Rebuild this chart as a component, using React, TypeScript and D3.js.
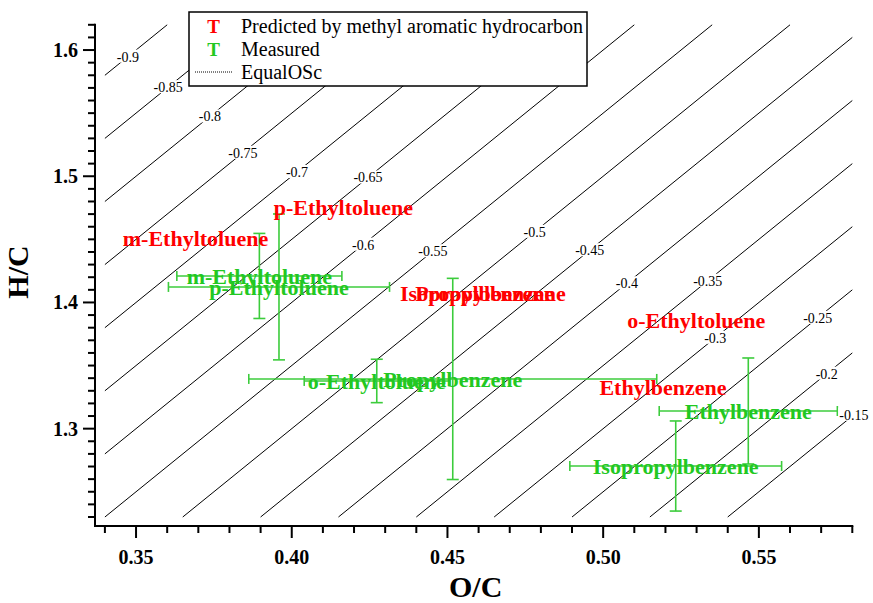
import React from "react";
import * as d3 from "d3";

// ---- data ----
const compounds = [
  "m-Ethyltoluene",
  "p-Ethyltoluene",
  "o-Ethyltoluene",
  "Propylbenzene",
  "Isopropylbenzene",
  "Ethylbenzene",
];
const predictedOC = [0.3691, 0.4166, 0.5299, 0.462, 0.4614, 0.5192];
const predictedHC = [1.451, 1.4757, 1.3857, 1.4075, 1.4075, 1.3328];
const measuredOC = [0.3896, 0.3959, 0.4273, 0.4517, 0.5233, 0.5466];
const measuredHC = [1.421, 1.4123, 1.3378, 1.3394, 1.2704, 1.314];
const measuredOCErr = [0.0265, 0.0355, 0.0233, 0.0655, 0.034, 0.0286];
const measuredHCErr = [0.0337, 0.0578, 0.0172, 0.0797, 0.0357, 0.042];

const oscValues = [
  -0.9, -0.85, -0.8, -0.75, -0.7, -0.65, -0.6, -0.55, -0.5, -0.45, -0.4, -0.35,
  -0.3, -0.25, -0.2, -0.15,
];
const oscLabelOC = [
  0.3474, 0.3603, 0.3737, 0.3843, 0.4017, 0.4245, 0.4229, 0.4453, 0.478,
  0.4957, 0.5076, 0.5336, 0.536, 0.5689, 0.5718, 0.5805,
];

const xTickValues = d3.range(34, 59).map((d) => d / 100);
const xMajorTicks = [0.35, 0.4, 0.45, 0.5, 0.55];
const yTickValues = d3.range(123, 163).map((d) => d / 100);
const yMajorTicks = [1.3, 1.4, 1.5, 1.6];

const legendItems = [
  { label: "Predicted by methyl aromatic hydrocarbon", kind: "red" },
  { label: "Measured", kind: "green" },
  { label: "EqualOSc", kind: "line" },
];

const RED = "#ff0000";
const GREEN_TEXT = "#22c822";
const GREEN_BAR = "#3ccc3c";
const FONT = "'Liberation Serif', 'Times New Roman', serif";

export default function App() {
  const W = 873;
  const H = 603;
  const x = d3.scaleLinear().domain([0.34, 0.58]).range([104.9, 852.3]);
  const y = d3.scaleLinear().domain([1.23, 1.62]).range([517, 24.8]);
  const axisX = 95; // left axis line position
  const axisY = 526; // bottom axis line position
  const fmtX = d3.format(".2f");
  const fmtY = d3.format(".1f");
  const isMajor = (v: number, majors: number[]) =>
    majors.some((m) => Math.abs(m - v) < 1e-6);

  const line = d3
    .line<[number, number]>()
    .x((d) => x(d[0]))
    .y((d) => y(d[1]));

  const isolines = oscValues.map((osc) => {
    const o0 = Math.max(0.34, (1.23 + osc) / 2);
    const o1 = Math.min(0.58, (1.62 + osc) / 2);
    return line([
      [o0, 2 * o0 - osc],
      [o1, 2 * o1 - osc],
    ]);
  });

  return (
    <svg
      width={W}
      height={H}
      style={{ position: "absolute", left: 0, top: 0, background: "#fff" }}
      fontFamily={FONT}
    >
      <rect x={0} y={0} width={W} height={H} fill="#fff" />
      {/* iso-OSc lines */}
      <g stroke="#000" strokeWidth={1} fill="none">
        {isolines.map((d, i) => (
          <path key={i} d={d || ""} />
        ))}
      </g>

      {/* measured error bars */}
      <g stroke={GREEN_BAR} strokeWidth={1.6} fill="none">
        {compounds.map((c, i) => {
          const cx = x(measuredOC[i]);
          const cy = y(measuredHC[i]);
          const xl = x(measuredOC[i] - measuredOCErr[i]);
          const xr = x(measuredOC[i] + measuredOCErr[i]);
          const yt = y(measuredHC[i] + measuredHCErr[i]);
          const yb = y(measuredHC[i] - measuredHCErr[i]);
          return (
            <g key={c}>
              <line x1={xl} x2={xr} y1={cy} y2={cy} />
              <line x1={xl} x2={xl} y1={cy - 5} y2={cy + 5} />
              <line x1={xr} x2={xr} y1={cy - 5} y2={cy + 5} />
              <line x1={cx} x2={cx} y1={yt} y2={yb} />
              <line x1={cx - 6} x2={cx + 6} y1={yt} y2={yt} />
              <line x1={cx - 6} x2={cx + 6} y1={yb} y2={yb} />
            </g>
          );
        })}
      </g>

      {/* measured labels */}
      <g fontSize={22} fontWeight="bold" fill={GREEN_TEXT} textAnchor="middle">
        {compounds.map((c, i) => (
          <text key={c} x={x(measuredOC[i])} y={y(measuredHC[i])} dy="0.35em">
            {c}
          </text>
        ))}
      </g>

      {/* predicted labels */}
      <g fontSize={22} fontWeight="bold" fill={RED} textAnchor="middle">
        {compounds.map((c, i) => (
          <text key={c} x={x(predictedOC[i])} y={y(predictedHC[i])} dy="0.35em">
            {c}
          </text>
        ))}
      </g>

      {/* iso-line labels */}
      <g fontSize={14} textAnchor="middle">
        {oscValues.map((osc, i) => {
          const o = oscLabelOC[i];
          const px = x(o);
          const py = y(2 * o - osc);
          const lbl = String(osc);
          const w = 14 * (0.333 + 0.25 + 0.5 * (lbl.length - 2)) + 2;
          return (
            <g key={osc}>
              <rect x={px - w / 2} y={py - 7} width={w} height={13} fill="#fff" />
              <text x={px} y={py} dy="0.35em" fill="#000">
                {lbl}
              </text>
            </g>
          );
        })}
      </g>

      {/* axes */}
      <g stroke="#000" strokeWidth={2} fill="none">
        <line x1={axisX} x2={axisX} y1={y(1.62) - 1} y2={axisY + 1} />
        <line x1={axisX - 1} x2={x(0.58) + 1} y1={axisY} y2={axisY} />
        {xTickValues.map((v) => (
          <line
            key={"xt" + v}
            x1={x(v)}
            x2={x(v)}
            y1={axisY}
            y2={axisY + (isMajor(v, xMajorTicks) ? 12 : 7)}
          />
        ))}
        {yTickValues.map((v) => (
          <line
            key={"yt" + v}
            x1={axisX}
            x2={axisX - (isMajor(v, yMajorTicks) ? 12 : 7)}
            y1={y(v)}
            y2={y(v)}
          />
        ))}
      </g>
      <g fontSize={20} fontWeight="bold" fill="#000">
        {xMajorTicks.map((v) => (
          <text key={"xl" + v} x={x(v)} y={564} textAnchor="middle">
            {fmtX(v)}
          </text>
        ))}
        {yMajorTicks.map((v) => (
          <text key={"yl" + v} x={78} y={y(v)} dy="0.35em" textAnchor="end">
            {fmtY(v)}
          </text>
        ))}
      </g>
      <text
        x={(axisX + x(0.58)) / 2 + 2}
        y={597}
        fontSize={30}
        fontWeight="bold"
        textAnchor="middle"
      >
        O/C
      </text>
      <text
        transform={`translate(28, 272) rotate(-90)`}
        fontSize={30}
        fontWeight="bold"
        textAnchor="middle"
      >
        H/C
      </text>

      {/* legend */}
      <g>
        <rect
          x={189}
          y={12}
          width={398}
          height={74}
          fill="#fff"
          stroke="#000"
          strokeWidth={1.5}
        />
        {legendItems.map((it, i) => {
          const by = 33 + i * 23;
          return (
            <g key={it.label}>
              {it.kind === "line" ? (
                <line
                  x1={195}
                  x2={232}
                  y1={by - 7}
                  y2={by - 7}
                  stroke="#000"
                  strokeWidth={1}
                  strokeDasharray="1,1"
                />
              ) : (
                <text
                  x={213.5}
                  y={by}
                  fontSize={19}
                  fontWeight="bold"
                  textAnchor="middle"
                  fill={it.kind === "red" ? RED : GREEN_TEXT}
                >
                  T
                </text>
              )}
              <text x={241} y={by} fontSize={20} fill="#000">
                {it.label}
              </text>
            </g>
          );
        })}
      </g>
    </svg>
  );
}
